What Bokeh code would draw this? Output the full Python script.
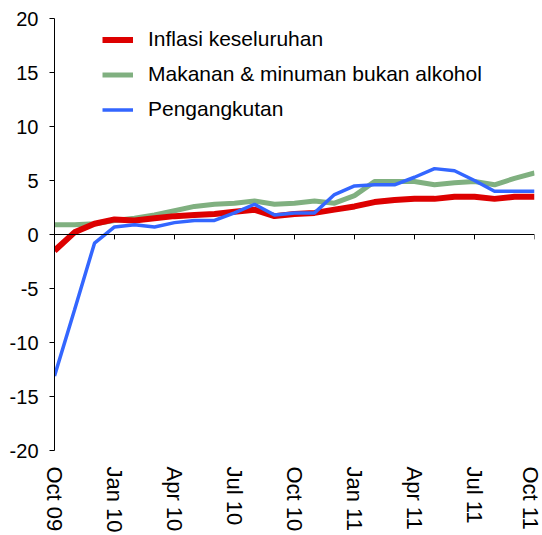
from bokeh.plotting import figure
from bokeh.models import FixedTicker, Span, Legend, LegendItem, Range1d, ColumnDataSource
from bokeh.embed import file_html
from bokeh.resources import INLINE

months = ["Oct 09", "Nov 09", "Dec 09", "Jan 10", "Feb 10", "Mar 10", "Apr 10", "May 10",
          "Jun 10", "Jul 10", "Aug 10", "Sep 10", "Oct 10", "Nov 10", "Dec 10", "Jan 11",
          "Feb 11", "Mar 11", "Apr 11", "May 11", "Jun 11", "Jul 11", "Aug 11", "Sep 11", "Oct 11"]
inflasi = [-1.5, 0.2, 1.0, 1.4, 1.3, 1.5, 1.7, 1.8, 1.9, 2.1, 2.3, 1.7, 1.9, 2.0, 2.3, 2.6,
           3.0, 3.2, 3.3, 3.3, 3.5, 3.5, 3.3, 3.5, 3.5]
makanan = [0.9, 0.9, 1.0, 1.3, 1.5, 1.8, 2.2, 2.6, 2.8, 2.9, 3.1, 2.8, 2.9, 3.1, 2.9, 3.6,
           4.9, 4.9, 4.9, 4.6, 4.8, 4.9, 4.6, 5.2, 5.7]
pengangkutan = [-13.1, -7.0, -0.8, 0.7, 0.9, 0.7, 1.1, 1.3, 1.3, 2.0, 2.8, 1.8, 2.0, 2.0,
                3.7, 4.5, 4.6, 4.6, 5.3, 6.1, 5.9, 5.0, 4.0, 4.0, 4.0]
series_names = ["Inflasi keseluruhan", "Makanan & minuman bukan alkohol", "Pengangkutan"]
y_ticks = [-20, -15, -10, -5, 0, 5, 10, 15, 20]
y_tick_labels = ["-20", "-15", "-10", "-5", "0", "5", "10", "15", "20"]
x_tick_step = 3

x = list(range(len(months)))
x_ticks = x[::x_tick_step]

FONT = "Liberation Sans"

p = figure(width=542, height=535, output_backend="svg", toolbar_location=None,
           x_range=Range1d(x[0], x[-1]), y_range=Range1d(y_ticks[0], y_ticks[-1]),
           min_border_left=54, min_border_right=8, min_border_top=18, min_border_bottom=83)
p.outline_line_color = None
p.grid.grid_line_color = None
p.background_fill_color = "white"
p.border_fill_color = "white"

# y axis
p.yaxis.ticker = FixedTicker(ticks=y_ticks)
p.yaxis.major_label_overrides = {t: l for t, l in zip(y_ticks, y_tick_labels)}
p.yaxis.major_tick_out = 5
p.yaxis.major_tick_in = 0
p.yaxis.minor_tick_line_color = None
p.yaxis.axis_line_color = "black"
p.yaxis.major_tick_line_color = "black"
p.yaxis.major_label_text_font = FONT
p.yaxis.major_label_text_font_size = "20px"
p.yaxis.major_label_text_color = "black"
p.yaxis.major_label_standoff = 11

# x axis: labels only at bottom
p.xaxis.ticker = FixedTicker(ticks=x_ticks)
p.xaxis.major_label_overrides = {i: months[i] for i in x_ticks}
p.xaxis.axis_line_color = None
p.xaxis.major_tick_line_color = None
p.xaxis.minor_tick_line_color = None
p.xaxis.major_label_orientation = "vertical"
p.xaxis.major_label_text_font = FONT
p.xaxis.major_label_text_font_size = "22px"
p.xaxis.major_label_text_color = "black"
p.xaxis.major_label_standoff = 10

# zero line with downward ticks
p.add_layout(Span(location=0, dimension="width", line_color="black", line_width=1))
tick_src = ColumnDataSource(dict(x=x_ticks[1:], y0=[0] * len(x_ticks[1:]), y1=[-0.45] * len(x_ticks[1:])))
p.segment(x0="x", y0="y0", x1="x", y1="y1", source=tick_src, line_color="black", line_width=1)

r_mak = p.line(x, makanan, line_color="#80B080", line_width=5)
r_inf = p.line(x, inflasi, line_color="#DD0000", line_width=6)
r_pen = p.line(x, pengangkutan, line_color="#3366FF", line_width=3.5)

legend = Legend(items=[
    LegendItem(label=series_names[0], renderers=[r_inf]),
    LegendItem(label=series_names[1], renderers=[r_mak]),
    LegendItem(label=series_names[2], renderers=[r_pen]),
], location=(48, 329))
legend.border_line_color = None
legend.background_fill_alpha = 0
legend.padding = 0
legend.margin = 0
legend.spacing = 11
legend.label_height = 21
legend.glyph_height = 21
legend.glyph_width = 31
legend.label_standoff = 15
legend.label_text_font = FONT
legend.label_text_font_size = "21px"
legend.label_text_color = "black"
p.add_layout(legend, "center")

open("out.html", "w").write(file_html(p, INLINE))
